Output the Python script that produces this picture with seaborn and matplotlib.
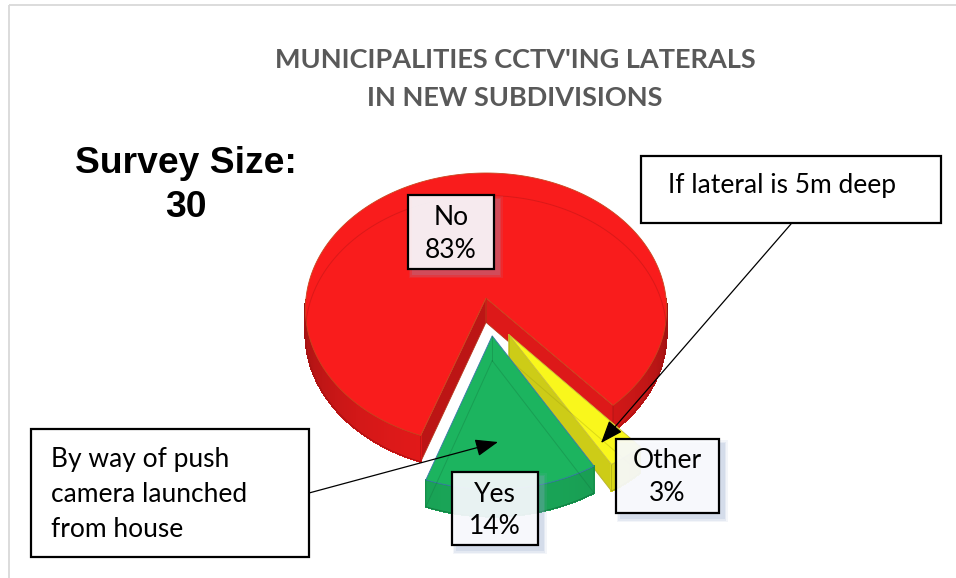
import numpy as np
import matplotlib
matplotlib.use("Agg")
import matplotlib.pyplot as plt
from matplotlib.patches import Polygon, Rectangle
import matplotlib.colors as mcolors
import seaborn as sns

# ---- survey data (slices listed counter-clockwise around the pie) ----
categories = ["Yes", "Other", "No"]
shares = [14, 3, 83]
survey_size = 30
title_lines = ["MUNICIPALITIES CCTV'ING LATERALS", "IN NEW SUBDIVISIONS"]
note_other = "If lateral is 5m deep"
note_yes = ["By way of push", "camera launched", "from house"]

sns.set_theme(style="white")
plt.rcParams["font.family"] = ["Lato", "DejaVu Sans"]

colors = dict(zip(categories, sns.color_palette(["#1CB45F", "#F9F71C", "#F91C1C"])))
edge_colors = dict(zip(categories, sns.color_palette(["#3A78AC", "#C9C23A", "#C9461E"])))

# ---- 3-D pie geometry (pixel space of the canvas) ----
CX, CY = 486.0, 298.0     # centre of the top face
R = 180.0                 # radius
K = 0.75                  # vertical squash of the disc
H = 0.135                 # thickness relative to radius
P = 0.08                  # perspective strength
START = 250.4             # angle where the first slice begins
explode = {"Yes": (0.276, 277.0), "Other": (0.29, 295.0), "No": (0.0, 0.0)}


def proj(x, y, z):
    s = 1.0 / (1.0 + P * np.asarray(y))
    return CX + R * s * np.asarray(x), CY - R * s * (K * np.asarray(y) + H * np.asarray(z))


def shade(c, f):
    r, g, b = mcolors.to_rgb(c)
    return (min(r * f, 1), min(g * f, 1), min(b * f, 1))


fig = plt.figure(figsize=(9.56, 5.78), dpi=100)
ax = fig.add_axes([0, 0, 1, 1])
ax.set_xlim(0, 956)
ax.set_ylim(578, 0)
ax.axis("off")

# light chart frame
ax.add_patch(Rectangle((9, 5), 980, 620, fill=False, edgecolor="#D9D9D9", lw=1.3, zorder=0))

# slice angles
spans = [v / sum(shares) * 360.0 for v in shares]
bounds = {}
a = START
for cat, sp in zip(categories, spans):
    bounds[cat] = (a, a + sp)
    a += sp


def draw_slice(cat, z0):
    a0, a1 = bounds[cat]
    d, ang = explode[cat]
    ox, oy = d * np.cos(np.radians(ang)), d * np.sin(np.radians(ang))
    base = colors[cat]
    n = max(3, int((a1 - a0) / 1.0) + 2)
    t = np.radians(np.linspace(a0, a1, n))
    ex, ey = ox + np.cos(t), oy + np.sin(t)
    edge_col = edge_colors[cat]

    # radial faces
    for edge_t, normal in ((t[0], np.degrees(t[0]) - 90), (t[-1], np.degrees(t[-1]) + 90)):
        sn = np.sin(np.radians(normal))
        if sn < 0:
            xs = [ox, ox + np.cos(edge_t), ox + np.cos(edge_t), ox]
            ys = [oy, oy + np.sin(edge_t), oy + np.sin(edge_t), oy]
            zs = [0, 0, -1, -1]
            px, py = proj(xs, ys, zs)
            c = shade(base, 0.62 + 0.40 * (-sn))
            ax.add_patch(Polygon(np.column_stack([px, py]), closed=True, facecolor=c,
                                 edgecolor=edge_col, lw=0.5, zorder=z0))

    # outer curved side, shaded by facing direction
    front = np.sin(0.5 * (t[:-1] + t[1:])) < 0
    for i in np.nonzero(front)[0]:
        tm = 0.5 * (t[i] + t[i + 1])
        xs = [ex[i], ex[i + 1], ex[i + 1], ex[i]]
        ys = [ey[i], ey[i + 1], ey[i + 1], ey[i]]
        zs = [0, 0, -1, -1]
        px, py = proj(xs, ys, zs)
        c = shade(base, 0.62 + 0.30 * (-np.sin(tm)))
        ax.add_patch(Polygon(np.column_stack([px, py]), closed=True, facecolor=c,
                             edgecolor=c, lw=0.8, antialiased=False, zorder=z0 + 0.1))
    # smooth outline around each visible run of the curved side
    idx = np.nonzero(front)[0]
    if len(idx):
        runs = np.split(idx, np.nonzero(np.diff(idx) > 1)[0] + 1)
        for run in runs:
            sel = np.arange(run[0], run[-1] + 2)
            xs = np.concatenate([ex[sel], ex[sel][::-1]])
            ys = np.concatenate([ey[sel], ey[sel][::-1]])
            zs = np.concatenate([np.zeros(len(sel)), -np.ones(len(sel))])
            px, py = proj(xs, ys, zs)
            ax.add_patch(Polygon(np.column_stack([px, py]), closed=True, fill=False,
                                 edgecolor=shade(base, 0.7), lw=0.5, zorder=z0 + 0.15))

    # top face
    px, py = proj(np.concatenate([[ox], ex]), np.concatenate([[oy], ey]), 0)
    ax.add_patch(Polygon(np.column_stack([px, py]), closed=True, facecolor=base,
                         edgecolor=edge_col, lw=0.6, zorder=z0 + 0.2))

    # faint hidden edges of the bottom face seen through the solid
    bx, by = proj(np.concatenate([[ox], ex, [ox]]), np.concatenate([[oy], ey, [oy]]), -1)
    ax.plot(bx, by, color=shade(base, 0.6), lw=0.7, alpha=0.3, zorder=z0 + 0.3)
    vx, vy = proj([ox, ox], [oy, oy], [0, -1])
    ax.plot(vx, vy, color=shade(base, 0.6), lw=0.7, alpha=0.3, zorder=z0 + 0.3)


draw_slice("No", 2)
draw_slice("Other", 3)
draw_slice("Yes", 4)

# ---- title and survey size ----
ax.text(515, 68, title_lines[0], ha="center", va="baseline", fontsize=19.5,
        fontweight="bold", color="#595959", zorder=10)
ax.text(515, 106.5, title_lines[1], ha="center", va="baseline", fontsize=19.5,
        fontweight="bold", color="#595959", zorder=10)
ax.text(186, 173, "Survey Size:", ha="center", va="baseline", fontsize=26.8,
        fontweight="bold", family="Liberation Sans", color="black", zorder=10)
ax.text(186, 217, f"{survey_size}", ha="center", va="baseline", fontsize=26.8,
        fontweight="bold", family="Liberation Sans", color="black", zorder=10)

# ---- callout arrows ----
arrow_style = dict(arrowstyle="-|>,head_length=1.0,head_width=0.38", lw=0.9,
                   color="black", shrinkA=0, shrinkB=0, mutation_scale=14)
ax.annotate("", xy=(601, 443), xytext=(791, 224), arrowprops=arrow_style, zorder=8)
ax.annotate("", xy=(498, 442), xytext=(309, 493), arrowprops=arrow_style, zorder=8)


def box(x0, y0, x1, y1, shadow=False, fill=(1, 1, 1, 1)):
    if shadow:
        for k, al in ((5, 0.10), (3.5, 0.14), (2, 0.18)):
            ax.add_patch(Rectangle((x0 + 6 - k, y0 + 6 - k), x1 - x0 + 2 * k - 2,
                                   y1 - y0 + 2 * k - 2, facecolor="#8FA3C8",
                                   edgecolor="none", alpha=al, zorder=11))
    ax.add_patch(Rectangle((x0, y0), x1 - x0, y1 - y0, facecolor=fill,
                           edgecolor="black", lw=1.6, zorder=12))


LABEL_SIZE = 19

# ---- data labels ----
label_boxes = {"No": (408, 195, 494, 269), "Yes": (452, 472, 538, 545),
               "Other": (616, 439, 719, 513)}
label_baselines = {"No": (225, 258), "Yes": (502, 534), "Other": (468, 501)}
for cat, val in zip(categories, shares):
    x0, y0, x1, y1 = label_boxes[cat]
    box(x0, y0, x1, y1, shadow=True, fill=(0.985, 0.988, 1.0, 0.9))
    b1, b2 = label_baselines[cat]
    xc = 0.5 * (x0 + x1)
    ax.text(xc, b1, cat, ha="center", va="baseline", fontsize=LABEL_SIZE, color="black", zorder=13)
    ax.text(xc, b2, f"{val}%", ha="center", va="baseline", fontsize=LABEL_SIZE, color="black", zorder=13)

# ---- notes ----
box(641, 156, 941, 223)
ax.text(668, 193, note_other, ha="left", va="baseline", fontsize=LABEL_SIZE, color="black", zorder=13)
box(31, 429, 309, 557)
for line, yb in zip(note_yes, (467, 502, 537)):
    ax.text(51, yb, line, ha="left", va="baseline", fontsize=LABEL_SIZE, color="black", zorder=13)

fig.savefig("out.png", dpi=100, facecolor="white")
